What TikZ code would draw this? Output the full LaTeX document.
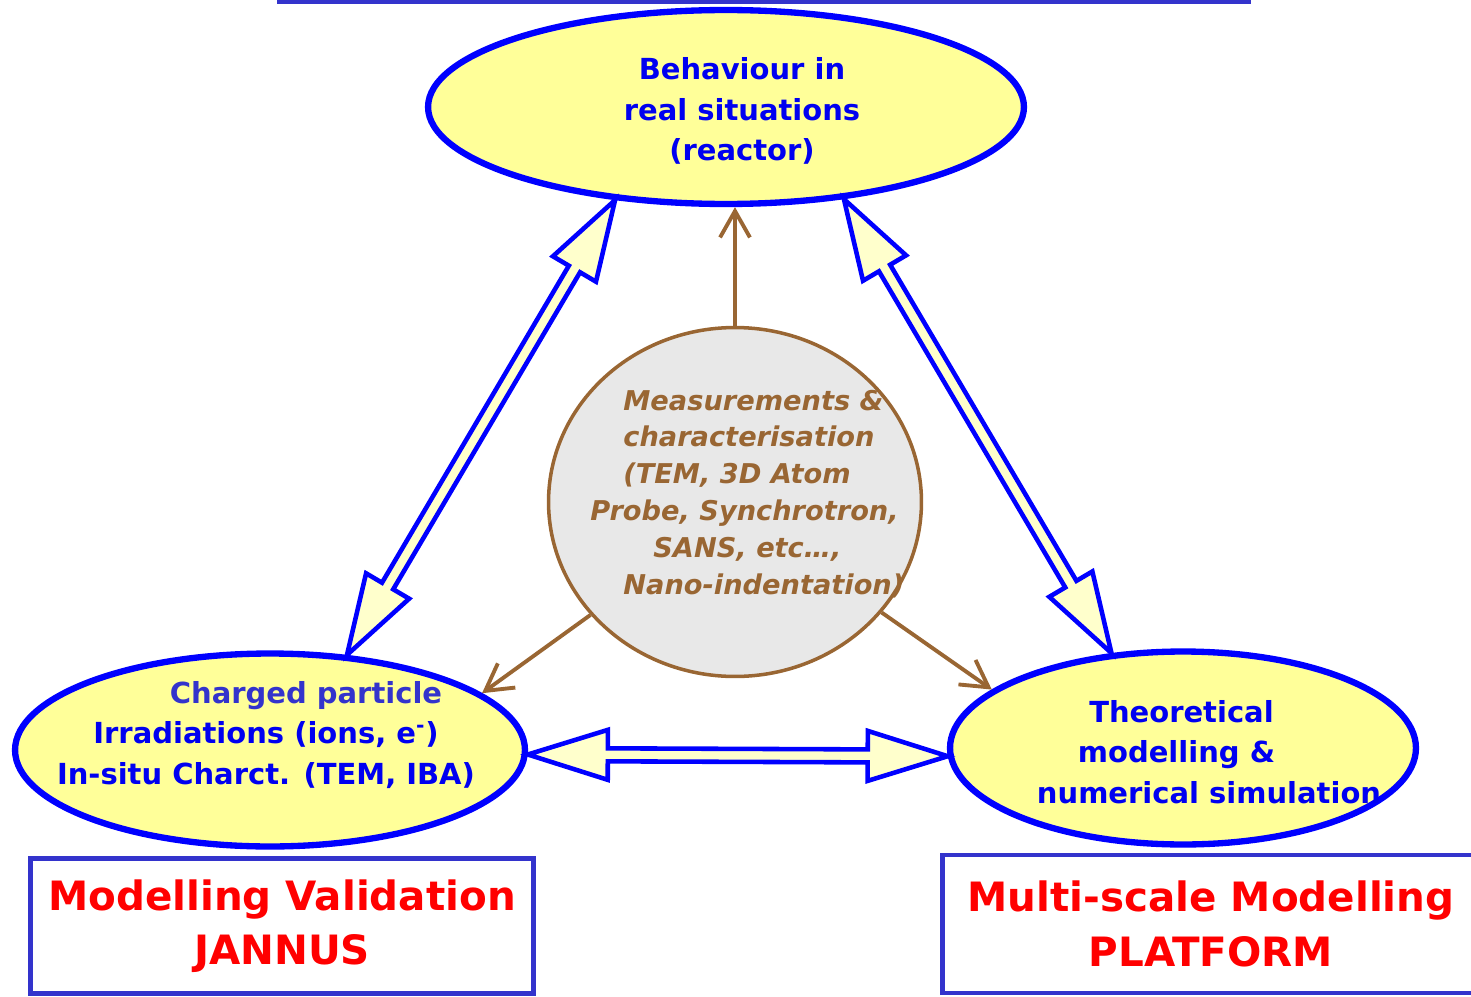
\documentclass[tikz,border=0pt]{standalone}
\usepackage{fontspec}
\setmainfont{DejaVu Sans}
\usepackage{tikz}
\usetikzlibrary{
  arrows.meta,
  positioning,
  shapes.geometric,
  calc
}
\definecolor{ellyellow}{RGB}{255,255,153}
\definecolor{arryellow}{RGB}{255,255,204}
\definecolor{boxblue}{RGB}{51,51,204}
\definecolor{measbrown}{RGB}{153,102,51}
\definecolor{measgray}{RGB}{232,232,232}
\definecolor{txtblue}{RGB}{0,0,240}

% hollow double-headed block arrow between two anchors
\newcommand{\blockarrow}[2]{%
  \draw[blkarr] (#1)
    -- ($(#1)!1.6cm!(#2)!0.5cm!90:(#2)$)
    -- ($(#1)!1.6cm!(#2)!0.13cm!90:(#2)$)
    -- ($(#2)!1.6cm!(#1)!0.13cm!-90:(#1)$)
    -- ($(#2)!1.6cm!(#1)!0.5cm!-90:(#1)$)
    -- (#2)
    -- ($(#2)!1.6cm!(#1)!0.5cm!90:(#1)$)
    -- ($(#2)!1.6cm!(#1)!0.13cm!90:(#1)$)
    -- ($(#1)!1.6cm!(#2)!0.13cm!-90:(#2)$)
    -- ($(#1)!1.6cm!(#2)!0.5cm!-90:(#2)$)
    -- cycle;
}

\begin{document}
\begin{tikzpicture}[
    x=0.02cm, y=-0.02cm,
    site/.style={
      ellipse, draw=blue, fill=ellyellow, line width=3.6pt, inner sep=0pt
    },
    sitetxt/.style={
      text=txtblue, align=center,
      font=\bfseries\fontsize{16.5pt}{23.2pt}\selectfont
    },
    meas/.style={
      ellipse, draw=measbrown, fill=measgray, line width=2pt, inner sep=0pt,
      minimum width=7.46cm, minimum height=6.98cm
    },
    meastxt/.style={
      text=measbrown, align=left, inner sep=0pt,
      font=\bfseries\itshape\fontsize{15.5pt}{21pt}\selectfont
    },
    redbox/.style={
      rectangle, draw=boxblue, line width=2.8pt, fill=white, inner sep=0pt,
      text=red, align=center,
      font=\bfseries\fontsize{23pt}{31pt}\selectfont
    },
    blkarr/.style={draw=blue, fill=arryellow, line width=2.6pt},
    brarr/.style={draw=measbrown, line width=2.2pt,
      -{Straight Barb[length=15pt, width=17pt]}},
  ]
  \useasboundingbox (0,0) rectangle (1471,997);

  %% --- frame edge at the top ---
  \draw[boxblue, line width=2.8pt] (277,2) -- (1251,2);

  %% --- the three sites ---
  \node[site, minimum width=11.92cm, minimum height=3.88cm] (real) at (726,107) {};
  \node[site, minimum width=10.2cm, minimum height=3.86cm]  (jan)  at (270,750) {};
  \node[site, minimum width=9.32cm, minimum height=3.86cm]  (theo) at (1183,748) {};

  \node[sitetxt] (realtxt) at (742,111)
    {Behaviour in\\real situations\\(reactor)};
  \node[sitetxt] (jantxt) at (266,735)
    {\hspace*{1.6cm}\textcolor{boxblue}{Charged particle}\\
     Irradiations (ions, e\textsuperscript{-})\\
     In-situ Charct. (TEM, IBA)};
  \node[sitetxt] (theotxt) at (1209,752)
    {Theoretical\rule{1.1cm}{0pt}\\modelling \&\rule{1.3cm}{0pt}\\numerical simulation};

  %% --- measurements in the middle ---
  \node[meas] (meas) at (735,502) {};
  \node[meastxt, anchor=west] (meastxt) at (623,494)
    {Measurements \&\\characterisation\\(TEM, 3D Atom\\
     \hspace*{-0.66cm}Probe, Synchrotron,\\\hspace*{0.6cm}SANS, etc…,\\Nano-indentation)};

  %% --- links ---
  \blockarrow{real.-140}{jan.51}
  \blockarrow{real.-38}{theo.127}
  \blockarrow{jan.-1}{theo.182}

  \draw[brarr] (meas.north) -- (meas.north |- real.south);
  \draw[brarr] (meas.218) -- (jan.15);
  \draw[brarr] (meas.323) -- (theo.163);

  %% --- platforms ---
  \node[redbox, minimum width=10.06cm, minimum height=2.71cm] (valid) at (282,926)
    {Modelling Validation\\JANNUS};
  \node[redbox, minimum width=10.74cm, minimum height=2.76cm] (platf) at (1211,924)
    {Multi-scale Modelling\\PLATFORM};
\end{tikzpicture}
\end{document}
